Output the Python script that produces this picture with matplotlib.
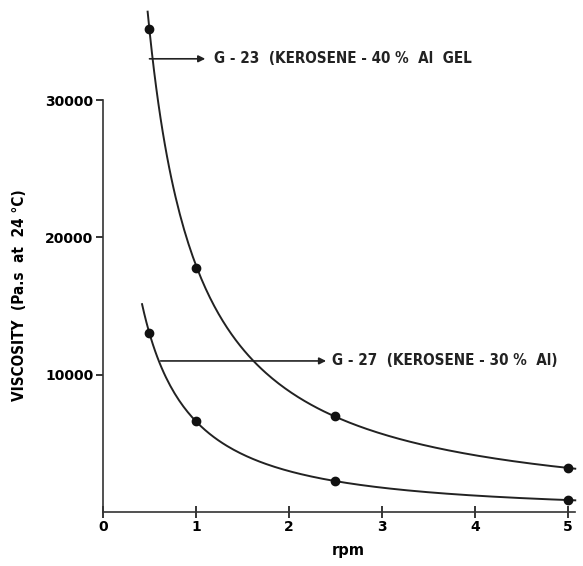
import numpy as np
import matplotlib
matplotlib.use("Agg")
import matplotlib.pyplot as plt

# values
rpm = [0.5, 1.0, 2.5, 5.0]
g23_visc = [35200, 17800, 7000, 3200]
g27_visc = [13000, 6600, 2250, 870]
xticks = [0, 1, 2, 3, 4, 5]
yticks = [10000, 20000, 30000]

g23_label = "G - 23  (KEROSENE - 40 %  Al  GEL"
g27_label = "G - 27  (KEROSENE - 30 %  Al)"

FONT = ['DejaVu Sans']
STRETCH = "condensed"


def smooth(xs, ys, x0, x1):
    # smooth curve through the points, fitted in log-log space
    p = np.polyfit(np.log(xs), np.log(ys), 2)
    xx = np.linspace(x0, x1, 200)
    return xx, np.exp(np.polyval(p, np.log(xx)))


def main():
    fig = plt.figure(figsize=(5.83, 5.66), dpi=100)
    ax = fig.add_axes([0.1767, 0.0954, 0.81, 0.7279])

    xx, yy = smooth(rpm, g23_visc, 0.48, 5.08)
    ax.plot(xx, yy, color="#222222", lw=1.4, clip_on=False)
    ax.plot(rpm, g23_visc, "o", color="#111111", ms=6, clip_on=False)

    xx, yy = smooth(rpm, g27_visc, 0.42, 5.08)
    ax.plot(xx, yy, color="#222222", lw=1.4, clip_on=False)
    ax.plot(rpm, g27_visc, "o", color="#111111", ms=6, clip_on=False)

    # labels with arrows
    ax.annotate("", xy=(1.1, 33000), xytext=(0.5, 33000),
                arrowprops=dict(arrowstyle="-|>", color="#222222", lw=1.2,
                                mutation_scale=10, shrinkA=0, shrinkB=0),
                annotation_clip=False)
    ax.text(1.19, 33000, g23_label, va="center", ha="left", fontsize=10.9,
            family=FONT, fontstretch=STRETCH, fontweight="bold", color="#222222",
            clip_on=False)

    ax.annotate("", xy=(2.4, 11000), xytext=(0.62, 11000),
                arrowprops=dict(arrowstyle="-|>", color="#222222", lw=1.2,
                                mutation_scale=10, shrinkA=0, shrinkB=0),
                annotation_clip=False)
    ax.text(2.46, 11000, g27_label, va="center", ha="left", fontsize=10.9,
            family=FONT, fontstretch=STRETCH, fontweight="bold", color="#222222",
            clip_on=False)

    ax.set_xlim(0, 5.08)
    ax.set_ylim(0, 30000)
    ax.set_xticks(xticks)
    ax.set_yticks(yticks)
    ax.set_xticklabels([str(t) for t in xticks], family=FONT, fontsize=10, fontweight="bold")
    ax.set_yticklabels([str(t) for t in yticks], family=FONT, fontsize=10, fontweight="bold")
    ax.tick_params(axis="x", direction="inout", length=8, width=1.1, pad=2)
    ax.tick_params(axis="y", direction="out", length=5, width=1.1, pad=2)
    ax.spines["top"].set_visible(False)
    ax.spines["right"].set_visible(False)
    for s in ["left", "bottom"]:
        ax.spines[s].set_linewidth(1.2)
        ax.spines[s].set_color("#333333")

    ax.set_xlabel("rpm", family=FONT, fontsize=10.5, fontweight="bold")
    ax.xaxis.set_label_coords(0.52, -0.075)
    ax.set_ylabel("VISCOSITY  (Pa.s  at  24 °C)", family=FONT, fontsize=11,
                  fontstretch=STRETCH, fontweight="bold")
    ax.yaxis.set_label_coords(-0.16, 0.527)

    fig.savefig("out.png", dpi=100)


if __name__ == "__main__":
    main()
